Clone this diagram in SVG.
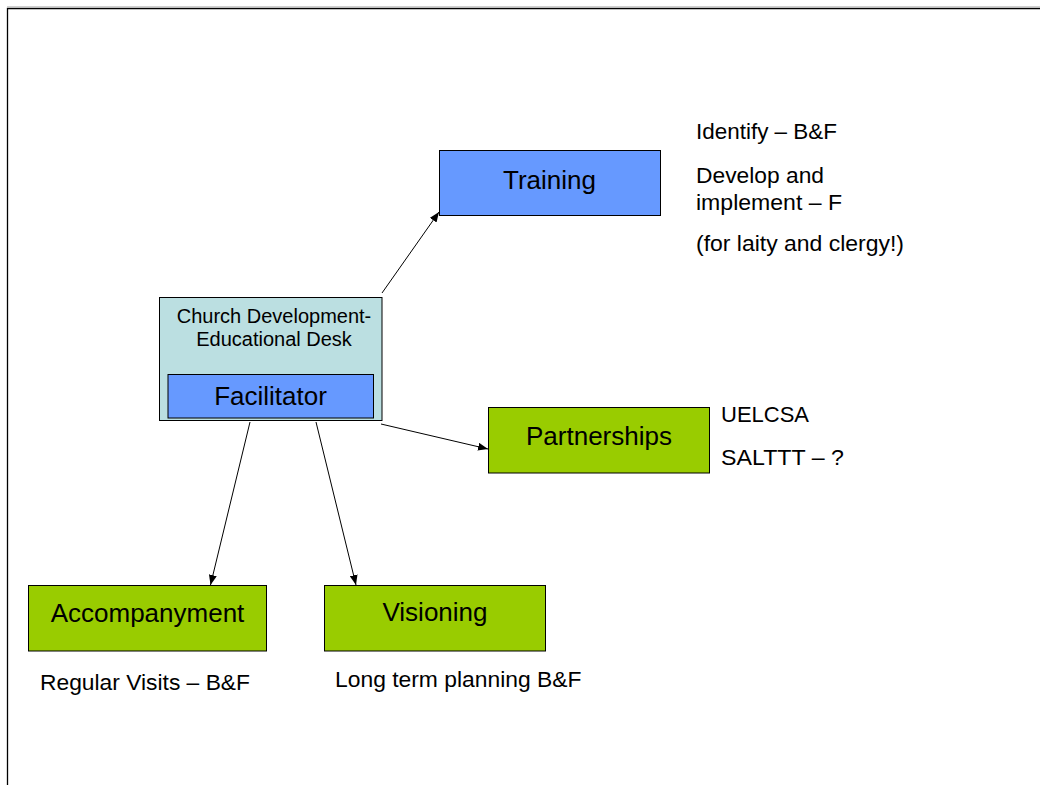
<svg xmlns="http://www.w3.org/2000/svg" width="1040" height="785" viewBox="0 0 1040 785">
  <style>
    text { font-family: "Liberation Sans", Arial, sans-serif; fill: #000; }
    .box { stroke: #000; stroke-width: 1; }
    .blue { fill: #6699FF; }
    .green { fill: #99CC00; }
    .desk { fill: #BBDFE1; }
    .lbl { font-size: 26px; text-anchor: middle; }
    .desk-lbl { font-size: 20px; text-anchor: middle; }
    .note { font-size: 22.5px; }
    .conn { stroke: #000; stroke-width: 1; fill: none; marker-end: url(#arrow); }
  </style>
  <defs>
    <marker id="arrow" viewBox="0 0 10 8" refX="10" refY="4" markerWidth="10" markerHeight="8" markerUnits="userSpaceOnUse" orient="auto">
      <path d="M0,0 L10,4 L0,8 z" fill="#000"/>
    </marker>
  </defs>

  <rect width="1040" height="785" fill="#fff"/>
  <!-- page frame -->
  <line x1="7" y1="6.5" x2="1040" y2="6.5" stroke="#d0d0d0" stroke-width="1"/>
  <path d="M7.5,785 L7.5,8.5 L1040,8.5" fill="none" stroke="#000" stroke-width="1.3"/>

  <g id="connectors">
    <line class="conn" x1="382" y1="293" x2="439" y2="212"/>
    <line class="conn" x1="381" y1="424" x2="488" y2="449"/>
    <line class="conn" x1="250" y1="422" x2="210.5" y2="585"/>
    <line class="conn" x1="316" y1="422" x2="356" y2="585"/>
  </g>

  <g id="desk">
    <rect class="box desk" x="159.5" y="297.5" width="222.5" height="123"/>
    <text class="desk-lbl" x="274" y="323">Church Development-</text>
    <text class="desk-lbl" x="274" y="346">Educational Desk</text>
  </g>

  <g id="facilitator">
    <rect class="box blue" x="168" y="374.5" width="205.5" height="43.5"/>
    <text class="lbl" x="270.5" y="405">Facilitator</text>
  </g>

  <g id="training">
    <rect class="box blue" x="439.5" y="150.5" width="221" height="65"/>
    <text class="lbl" x="549.5" y="189">Training</text>
  </g>
  <g id="training-notes">
    <text class="note" x="696" y="139" textLength="141" lengthAdjust="spacingAndGlyphs">Identify – B&amp;F</text>
    <text class="note" x="696" y="182.5" textLength="128" lengthAdjust="spacingAndGlyphs">Develop and</text>
    <text class="note" x="696" y="210" textLength="146" lengthAdjust="spacingAndGlyphs">implement – F</text>
    <text class="note" x="696" y="251" textLength="208" lengthAdjust="spacingAndGlyphs">(for laity and clergy!)</text>
  </g>

  <g id="partnerships">
    <rect class="box green" x="488.5" y="407.5" width="221" height="65.5"/>
    <text class="lbl" x="599" y="445">Partnerships</text>
  </g>
  <g id="partnerships-notes">
    <text class="note" x="721" y="421.5" textLength="88" lengthAdjust="spacingAndGlyphs">UELCSA</text>
    <text class="note" x="721" y="465" textLength="123" lengthAdjust="spacingAndGlyphs">SALTTT – ?</text>
  </g>

  <g id="accompanyment">
    <rect class="box green" x="28.5" y="585.5" width="238" height="65.5"/>
    <text class="lbl" x="147.5" y="621.5">Accompanyment</text>
    <text class="note" x="40" y="690" textLength="210" lengthAdjust="spacingAndGlyphs">Regular Visits – B&amp;F</text>
  </g>

  <g id="visioning">
    <rect class="box green" x="324.5" y="585.5" width="221" height="65.5"/>
    <text class="lbl" x="435" y="621">Visioning</text>
    <text class="note" x="335" y="687" textLength="246.5" lengthAdjust="spacingAndGlyphs">Long term planning B&amp;F</text>
  </g>
</svg>
